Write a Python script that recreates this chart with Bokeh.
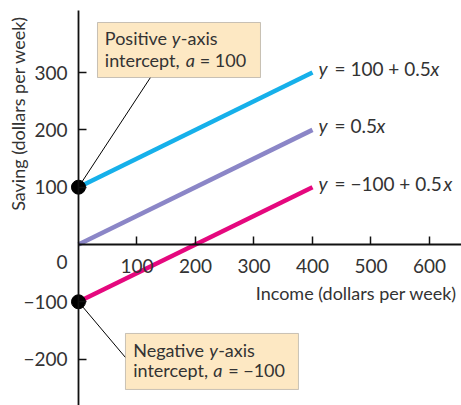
import math
from bokeh.plotting import figure
from bokeh.models import Range1d, FixedTicker, Label, BoxAnnotation
from bokeh.embed import file_html
from bokeh.resources import INLINE

# ---- data ----
income = [0, 400]
saving_positive = [100, 300]   # y = 100 + 0.5x
saving_zero = [0, 200]         # y = 0.5x
saving_negative = [-100, 100]  # y = -100 + 0.5x
intercept_x = [0, 0]
intercept_y = [100, -100]
x_ticks = [100, 200, 300, 400, 500, 600]
y_ticks = [-200, -100, 100, 200, 300]
equation_middles = ["= 100 + 0.5", "= 0.5", "= \u2212100 + 0.5"]

FONT = "Lato"
TXT = "#333333"
colors = ["#16b0ea", "#8b86c7", "#e5087e"]
BOX_FILL = "#fde8c3"

p = figure(width=461, height=405,
           x_range=Range1d(-133.3, 654.7), y_range=Range1d(-281.0, 425.8),
           output_backend="svg", toolbar_location=None, min_border=0)
p.outline_line_color = None
p.grid.visible = False
p.background_fill_color = "white"
p.border_fill_color = "white"

for ax in (p.xaxis[0], p.yaxis[0]):
    ax.fixed_location = 0
    ax.axis_line_color = "#111111"
    ax.axis_line_width = 1.8
    ax.major_tick_in = 8
    ax.major_tick_out = 0
    ax.major_tick_line_color = "#111111"
    ax.major_tick_line_width = 1.5
    ax.minor_tick_line_color = None
    ax.major_label_text_font = FONT
    ax.major_label_text_font_size = "19px"
    ax.major_label_text_color = TXT
p.xaxis[0].ticker = FixedTicker(ticks=x_ticks)
p.yaxis[0].ticker = FixedTicker(ticks=y_ticks)
p.xaxis[0].bounds = (0, 700)
p.yaxis[0].bounds = (-300, 408)
p.xaxis[0].major_label_standoff = 15
p.yaxis[0].major_label_standoff = 11
p.xaxis[0].major_label_overrides = {t: str(t) for t in x_ticks}
p.yaxis[0].major_label_overrides = {t: str(t).replace("-", "\u2212") for t in y_ticks}

# boxes (annotations)
box1 = BoxAnnotation(left=32.5, right=311.1, top=387.4, bottom=291.4,
                     fill_color=BOX_FILL, fill_alpha=1, line_color="#4d4d4d", line_width=1)
box2 = BoxAnnotation(left=80.3, right=376.0, top=-155.3, bottom=-253.0,
                     fill_color=BOX_FILL, fill_alpha=1, line_color="#4d4d4d", line_width=1)

# leader lines
p.segment(x0=intercept_x, y0=intercept_y, x1=[123, 80.3], y1=[291.4, -197.2],
          line_color="black", line_width=1)

# lines
for ys, c in zip([saving_positive, saving_zero, saving_negative], colors):
    p.line(income, ys, line_color=c, line_width=4.5)

p.scatter(intercept_x, intercept_y, size=14, color="black")

p.add_layout(box1)
p.add_layout(box2)


def lab(x, y, text, xo=0, yo=0, italic=False, size="18px", align="left",
        baseline="alphabetic", angle=0):
    p.add_layout(Label(x=x, y=y, text=text, x_offset=xo, y_offset=yo,
                       text_font=FONT, text_font_size=size, text_color=TXT,
                       text_font_style="italic" if italic else "normal",
                       text_align=align, text_baseline=baseline, angle=angle))


# box texts
BY = 7
lab(45, 347.3, "Positive", yo=BY)
lab(45, 347.3, "y", xo=67, yo=BY, italic=True)
lab(45, 347.3, "-axis", xo=76, yo=BY)
lab(45, 308.9, "intercept,", yo=BY)
lab(45, 308.9, "a", xo=81, yo=BY, italic=True)
lab(45, 308.9, "= 100", xo=95, yo=BY)

lab(93.5, -195.5, "Negative", yo=BY)
lab(93.5, -195.5, "y", xo=76, yo=BY, italic=True)
lab(93.5, -195.5, "-axis", xo=85, yo=BY)
lab(93.5, -232.1, "intercept,", yo=BY)
lab(93.5, -232.1, "a", xo=80, yo=BY, italic=True)
lab(93.5, -232.1, "= \u2212100", xo=95, yo=BY)

# equation labels at the right ends of the lines
ends = [saving_positive[-1], saving_zero[-1], saving_negative[-1]]
x_after = [118, 64, 131]
for yv, mid, xa in zip(ends, equation_middles, x_after):
    lab(income[-1], yv, "y", xo=6, yo=4, italic=True, baseline="middle", size="19px")
    lab(income[-1], yv, mid, xo=22, yo=4, baseline="middle", size="19px")
    lab(income[-1], yv, "x", xo=xa, yo=4, italic=True, baseline="middle", size="19px")

# axis titles and origin label
lab(0, 0, "0", xo=-11, yo=-18, align="right", baseline="middle", size="19px")
lab(303, -85.5, "Income (dollars per week)", baseline="middle", size="18px")
lab(-104, 228.6, "Saving (dollars per week)", align="center", baseline="middle",
    size="18px", angle=math.pi / 2)

open("out.html", "w").write(file_html(p, INLINE))
